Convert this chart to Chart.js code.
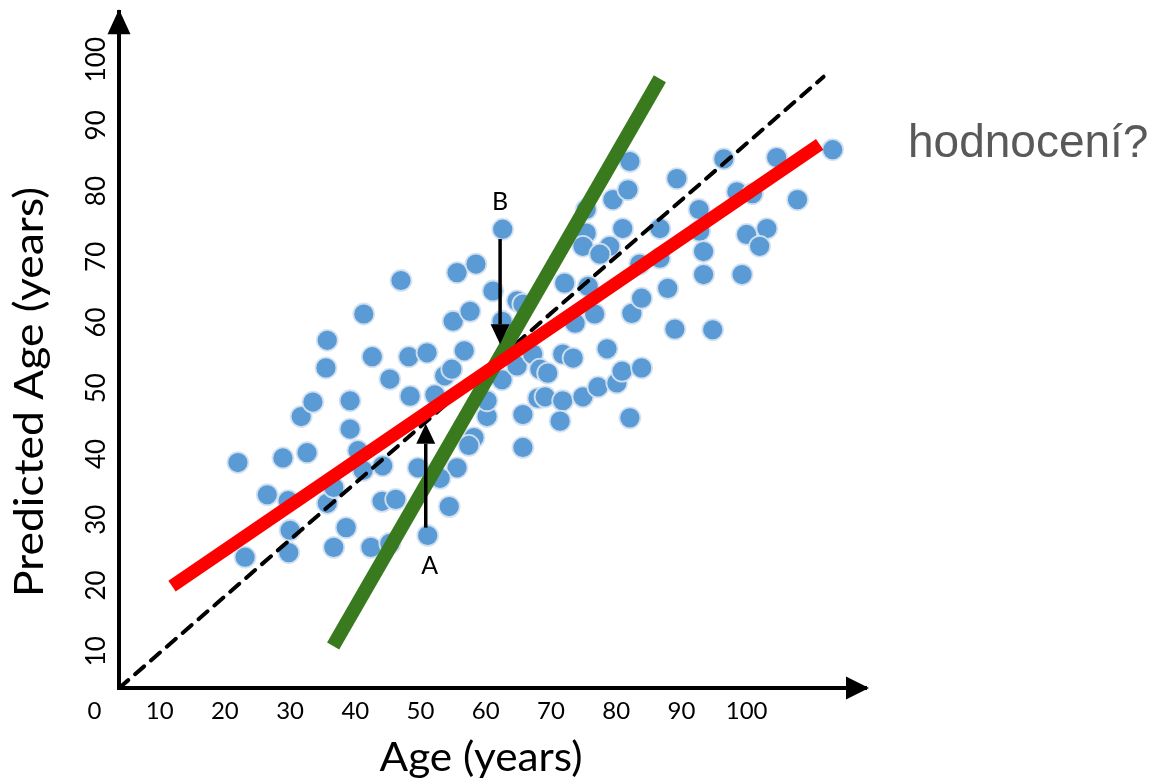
<!DOCTYPE html>
<html>
<head>
<meta charset="utf-8">
<title>Predicted Age vs Age</title>
<script src="https://cdn.jsdelivr.net/npm/chart.js@4.4.0/dist/chart.umd.min.js"></script>
<style>
  html, body { margin: 0; padding: 0; background: #fff; }
  #wrap { position: relative; width: 1159px; height: 781px; }
</style>
</head>
<body>
<div id="wrap"><canvas id="chart"></canvas></div>
<script>
const actualAge = [
  22.0, 23.1, 26.5, 28.9, 29.7, 30.0, 29.8, 31.7, 32.6, 33.5,
  35.5, 35.7, 35.7, 36.7, 38.6, 39.2, 39.2, 40.4, 41.3, 42.6,
  42.4, 44.2, 45.3, 44.1, 46.2, 45.3, 47.0, 48.2, 48.4, 51.0,
  51.1, 49.6, 52.2, 53.7, 54.8, 54.4, 55.6, 53.0, 41.2, 36.7,
  55.6, 58.5, 61.1, 55.0, 57.6, 62.5, 62.6, 64.8, 65.7, 56.7,
  62.5, 64.8, 67.2, 60.2, 65.7, 68.0, 58.2, 57.4, 65.7, 60.2,
  68.3, 69.5, 71.8, 73.4, 69.1, 71.8, 74.9, 77.2, 80.1, 80.9,
  83.9, 78.6, 71.4, 82.1, 73.7, 76.7, 82.4, 83.9, 87.9, 89.0,
  94.8, 72.1, 75.7, 75.4, 74.9, 79.0, 77.5, 81.0, 86.7, 75.4,
  79.5, 81.8, 82.1, 89.3, 96.5, 104.6, 113.2, 98.5, 100.9, 107.8,
  92.7, 92.8, 100.0, 103.1, 102.0, 93.4, 93.4, 99.3, 86.7, 83.6
];
const predictedAge = [
  38.7, 24.3, 33.8, 39.4, 32.9, 28.4, 25.0, 45.7, 40.2, 47.9,
  53.1, 57.3, 32.5, 25.8, 28.8, 48.1, 43.8, 40.5, 61.3, 54.8,
  25.8, 38.2, 51.4, 32.8, 33.1, 26.4, 66.4, 54.8, 48.8, 55.4,
  27.6, 37.9, 49.0, 51.9, 52.9, 32.0, 37.9, 36.3, 37.5, 34.9,
  67.6, 68.9, 64.8, 60.2, 61.7, 60.2, 74.2, 63.3, 62.8, 55.7,
  51.3, 53.4, 55.2, 45.7, 46.0, 48.5, 42.5, 41.3, 41.0, 48.1,
  52.9, 52.3, 55.2, 54.6, 48.7, 48.1, 48.7, 50.2, 50.8, 52.6,
  53.1, 56.0, 45.0, 45.5, 59.9, 61.3, 61.4, 63.7, 65.2, 59.0,
  58.9, 66.0, 65.5, 73.6, 71.6, 71.6, 70.4, 74.3, 74.3, 77.2,
  78.7, 80.2, 84.5, 81.9, 84.9, 85.1, 86.3, 79.9, 79.6, 78.7,
  77.2, 73.9, 73.4, 74.3, 71.6, 70.8, 67.3, 67.3, 69.8, 68.9
];

// reference line (dashed) and the two fitted lines, as end points
const identityX = [3.8, 111.8];
const identityY = [4.4, 97.4];
const redLineX = [11.9, 111.2];
const redLineY = [19.9, 87.1];
const greenLineX = [36.6, 86.7];
const greenLineY = [10.8, 97.1];

// residual arrows A and B
const arrowNames = ['A', 'B'];
const arrowX = [50.8, 62.2];
const arrowFrom = [28.8, 72.7];
const arrowTo = [44.6, 56.7];
const arrowLabelX = [51.4, 62.2];
const arrowLabelY = [22.9, 78.4];

const xTicks = [0, 10, 20, 30, 40, 50, 60, 70, 80, 90, 100];
const yTicks = [10, 20, 30, 40, 50, 60, 70, 80, 90, 100];

const toPoints = (xs, ys) => xs.map((x, i) => ({ x: x, y: ys[i] }));

const FONT = 'Lato, "Open Sans", sans-serif';

// text squeezed/stretched along its own direction to a given length
function fitText(ctx, text, x, y, angle, length) {
  const w = ctx.measureText(text).width;
  ctx.save();
  ctx.translate(x, y);
  ctx.rotate(angle);
  ctx.scale(length / w, 1);
  ctx.fillText(text, 0, 0);
  ctx.restore();
}

const decorations = {
  id: 'decorations',
  afterDatasetsDraw(chart) {
    const ctx = chart.ctx;
    const xs = chart.scales.x;
    const ys = chart.scales.y;
    ctx.save();
    ctx.fillStyle = '#000';
    ctx.strokeStyle = '#000';
    arrowNames.forEach((name, i) => {
      const px = xs.getPixelForValue(arrowX[i]);
      const y0 = ys.getPixelForValue(arrowFrom[i]);
      const y1 = ys.getPixelForValue(arrowTo[i]);
      const dir = y1 < y0 ? -1 : 1;
      const headLen = 20;
      ctx.lineWidth = 3.5;
      ctx.beginPath();
      ctx.moveTo(px, y0);
      ctx.lineTo(px, y1 - dir * headLen);
      ctx.stroke();
      ctx.beginPath();
      ctx.moveTo(px, y1);
      ctx.lineTo(px - 9.5, y1 - dir * headLen);
      ctx.lineTo(px + 9.5, y1 - dir * headLen);
      ctx.closePath();
      ctx.fill();

      ctx.font = '25px ' + FONT;
      ctx.textAlign = 'center';
      ctx.textBaseline = 'middle';
      ctx.fillText(name, xs.getPixelForValue(arrowLabelX[i]), ys.getPixelForValue(arrowLabelY[i]));
    });
    ctx.restore();
  },
  afterDraw(chart) {
    const ctx = chart.ctx;
    const area = chart.chartArea;
    ctx.save();
    ctx.fillStyle = '#000';

    // arrow heads on the axes
    ctx.beginPath();
    ctx.moveTo(area.left, area.top - 3);
    ctx.lineTo(area.left - 11.5, area.top + 22);
    ctx.lineTo(area.left + 11.5, area.top + 22);
    ctx.closePath();
    ctx.fill();
    ctx.beginPath();
    ctx.moveTo(area.right + 3, area.bottom);
    ctx.lineTo(area.right - 20, area.bottom - 11.5);
    ctx.lineTo(area.right - 20, area.bottom + 11.5);
    ctx.closePath();
    ctx.fill();

    // axis titles
    ctx.font = '40px ' + FONT;
    ctx.textAlign = 'center';
    ctx.textBaseline = 'alphabetic';
    fitText(ctx, 'Age (years)', 481, 771, 0, 203);
    fitText(ctx, 'Predicted Age (years)', 43, 392, -Math.PI / 2, 410);

    // side question
    ctx.fillStyle = '#595959';
    ctx.font = '46px "Liberation Sans", Arial, sans-serif';
    ctx.textAlign = 'left';
    ctx.fillText('hodnocení?', 908, 157);
    ctx.restore();
  }
};

new Chart(document.getElementById('chart'), {
  type: 'scatter',
  data: {
    datasets: [
      {
        label: 'Fit (red)',
        data: toPoints(redLineX, redLineY),
        showLine: true,
        borderColor: '#ff0000',
        borderWidth: 13,
        borderCapStyle: 'butt',
        pointRadius: 0,
        clip: false,
        order: 1
      },
      {
        label: 'Fit (green)',
        data: toPoints(greenLineX, greenLineY),
        showLine: true,
        borderColor: '#3a7a1e',
        borderWidth: 14,
        borderCapStyle: 'butt',
        pointRadius: 0,
        clip: false,
        order: 2
      },
      {
        label: 'y = x',
        data: toPoints(identityX, identityY),
        showLine: true,
        borderColor: '#000',
        borderWidth: 4,
        borderDash: [12, 9],
        borderCapStyle: 'round',
        pointRadius: 0,
        clip: false,
        order: 3
      },
      {
        label: 'Subjects',
        data: toPoints(actualAge, predictedAge),
        pointRadius: 10.5,
        pointBackgroundColor: '#5b9bd5',
        pointBorderColor: 'rgba(212,225,240,0.95)',
        pointBorderWidth: 1.8,
        clip: false,
        order: 4
      }
    ]
  },
  options: {
    responsive: true,
    maintainAspectRatio: false,
    animation: false,
    events: [],
    layout: { padding: { top: 10, right: 293, left: 0, bottom: 0 } },
    plugins: {
      legend: { display: false },
      tooltip: { enabled: false }
    },
    scales: {
      x: {
        type: 'linear',
        min: 3.77,
        max: 118.3,
        grid: { display: false, drawTicks: false },
        border: { display: true, color: '#000', width: 4 },
        afterBuildTicks: (scale) => { scale.ticks = xTicks.map(v => ({ value: v })); },
        afterFit: (scale) => {
          scale.height = 93;
          scale.paddingLeft = 0;
          scale.paddingRight = 0;
        },
        ticks: {
          autoSkip: false,
          maxRotation: 0,
          padding: 9,
          color: '#000',
          font: { family: FONT, size: 24 }
        }
      },
      y: {
        type: 'linear',
        min: 4.4,
        max: 107.2,
        grid: { display: false, drawTicks: false },
        border: { display: true, color: '#000', width: 4 },
        afterBuildTicks: (scale) => { scale.ticks = yTicks.map(v => ({ value: v })); },
        afterFit: (scale) => {
          scale.width = 119;
          scale.paddingTop = 0;
          scale.paddingBottom = 0;
        },
        ticks: {
          autoSkip: false,
          minRotation: 90,
          maxRotation: 90,
          crossAlign: 'center',
          padding: 0,
          color: '#000',
          font: { family: FONT, size: 26 }
        }
      }
    }
  },
  plugins: [decorations]
});
</script>
</body>
</html>
